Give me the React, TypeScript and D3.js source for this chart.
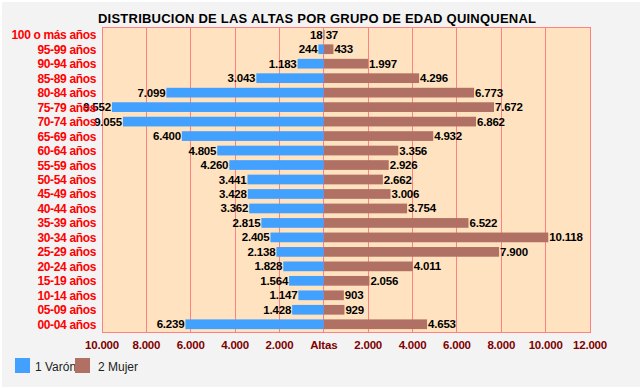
import { useEffect, useRef } from 'react';
import * as d3 from 'd3';

const categories = [
  '100 o más años', '95-99 años', '90-94 años', '85-89 años', '80-84 años',
  '75-79 años', '70-74 años', '65-69 años', '60-64 años', '55-59 años',
  '50-54 años', '45-49 años', '40-44 años', '35-39 años', '30-34 años',
  '25-29 años', '20-24 años', '15-19 años', '10-14 años', '05-09 años', '00-04 años',
];

const varon = [
  18, 244, 1183, 3043, 7099, 9552, 9055, 6400, 4805, 4260, 3441,
  3428, 3362, 2815, 2405, 2138, 1828, 1564, 1147, 1428, 6239,
];

const mujer = [
  37, 433, 1997, 4296, 6773, 7672, 6862, 4932, 3356, 2926, 2662,
  3006, 3754, 6522, 10118, 7900, 4011, 2056, 903, 929, 4653,
];

const tickValues = [-10000, -8000, -6000, -4000, -2000, 0, 2000, 4000, 6000, 8000, 10000, 12000];

const series = [
  { name: '1 Varón', color: '#42a0ff' },
  { name: '2 Mujer', color: '#b07064' },
];

const W = 642;
const H = 389;

export default function App() {
  const svgRef = useRef<SVGSVGElement>(null);

  useEffect(() => {
    if (!svgRef.current) return;
    const svg = d3.select(svgRef.current);
    svg.selectAll('*').remove();

    const fmt = (v: number) => d3.format(',')(Math.abs(v)).replace(/,/g, '.');

    // background with thin white frame
    svg.append('rect').attr('width', W).attr('height', H).attr('fill', '#ffffff');
    svg.append('rect').attr('x', 2).attr('y', 2).attr('width', W - 4).attr('height', H - 4).attr('fill', '#f3f3f3');

    const plot = { left: 102, right: 590, top: 27, bottom: 332 };

    const x = d3.scaleLinear().domain([-10000, 12000]).range([plot.left, plot.right]);
    const y = d3.scaleBand().domain(categories).range([plot.top, plot.bottom]).paddingInner(0.33).paddingOuter(0.2);

    // plot area
    svg.append('rect')
      .attr('x', plot.left).attr('y', plot.top)
      .attr('width', plot.right - plot.left).attr('height', plot.bottom - plot.top)
      .attr('fill', '#ffe2bf');

    // grid
    svg.append('g')
      .selectAll('line')
      .data(tickValues)
      .enter()
      .append('line')
      .attr('x1', d => x(d)).attr('x2', d => x(d))
      .attr('y1', plot.top).attr('y2', plot.bottom)
      .attr('stroke', '#ff8080')
      .attr('stroke-width', 1)
      .attr('shape-rendering', 'crispEdges');

    svg.append('rect')
      .attr('x', plot.left).attr('y', plot.top)
      .attr('width', plot.right - plot.left).attr('height', plot.bottom - plot.top)
      .attr('fill', 'none')
      .attr('stroke', '#ff8080')
      .attr('shape-rendering', 'crispEdges');

    const rows = categories.map((c, i) => ({ cat: c, v: varon[i], m: mujer[i] }));

    // bars
    svg.append('g').selectAll('rect')
      .data(rows).enter().append('rect')
      .attr('x', d => x(-d.v))
      .attr('y', d => y(d.cat) || 0)
      .attr('width', d => x(0) - x(-d.v))
      .attr('height', y.bandwidth())
      .attr('fill', series[0].color);

    svg.append('g').selectAll('rect')
      .data(rows).enter().append('rect')
      .attr('x', x(0))
      .attr('y', d => y(d.cat) || 0)
      .attr('width', d => x(d.m) - x(0))
      .attr('height', y.bandwidth())
      .attr('fill', series[1].color);

    const font = "'Liberation Sans', Arial, sans-serif";

    // value labels
    svg.append('g').selectAll('text')
      .data(rows).enter().append('text')
      .attr('x', d => x(-d.v) - 1)
      .attr('y', d => (y(d.cat) || 0) + y.bandwidth() / 2 + 4)
      .attr('text-anchor', 'end')
      .style('font-family', font).style('font-size', '11.5px').style('font-weight', 'bold')
      .style('letter-spacing', '-0.2px')
      .attr('fill', '#000')
      .text(d => fmt(d.v));

    svg.append('g').selectAll('text')
      .data(rows).enter().append('text')
      .attr('x', d => x(d.m) + 1)
      .attr('y', d => (y(d.cat) || 0) + y.bandwidth() / 2 + 4)
      .attr('text-anchor', 'start')
      .style('font-family', font).style('font-size', '11.5px').style('font-weight', 'bold')
      .style('letter-spacing', '-0.2px')
      .attr('fill', '#000')
      .text(d => fmt(d.m));

    // category labels
    svg.append('g').selectAll('text')
      .data(categories).enter().append('text')
      .attr('x', 96)
      .attr('y', d => (y(d) || 0) + y.bandwidth() / 2 + 4.5)
      .attr('text-anchor', 'end')
      .style('font-family', font).style('font-size', '12px').style('font-weight', 'bold')
      .style('letter-spacing', '-0.35px')
      .attr('fill', '#ff0000')
      .text(d => d);

    // x tick labels
    svg.append('g').selectAll('text')
      .data(tickValues).enter().append('text')
      .attr('x', d => x(d))
      .attr('y', 349)
      .attr('text-anchor', 'middle')
      .style('font-family', font).style('font-size', '11.5px').style('font-weight', 'bold')
      .style('letter-spacing', '-0.2px')
      .attr('fill', '#800000')
      .text(d => (d === 0 ? 'Altas' : fmt(d)));

    // title
    svg.append('text')
      .attr('x', 98)
      .attr('y', 23)
      .attr('textLength', 438)
      .attr('lengthAdjust', 'spacing')
      .style('font-family', font).style('font-size', '13px').style('font-weight', 'bold')
      .attr('fill', '#000')
      .text('DISTRIBUCION DE LAS ALTAS POR GRUPO DE EDAD QUINQUENAL');

    // legend
    const legendX = [15, 75];
    const lg = svg.append('g').selectAll('g')
      .data(series).enter().append('g')
      .attr('transform', (d, i) => `translate(${legendX[i]},358)`);
    lg.append('rect').attr('width', 15).attr('height', 15).attr('fill', d => d.color);
    lg.append('text')
      .attr('x', (d, i) => (i === 0 ? 20 : 23))
      .attr('y', 12.5)
      .style('font-family', font).style('font-size', '12px')
      .attr('fill', '#222')
      .text(d => d.name);
  }, []);

  return (
    <svg
      ref={svgRef}
      width={W}
      height={H}
      style={{ position: 'absolute', left: 0, top: 0, display: 'block' }}
    />
  );
}
